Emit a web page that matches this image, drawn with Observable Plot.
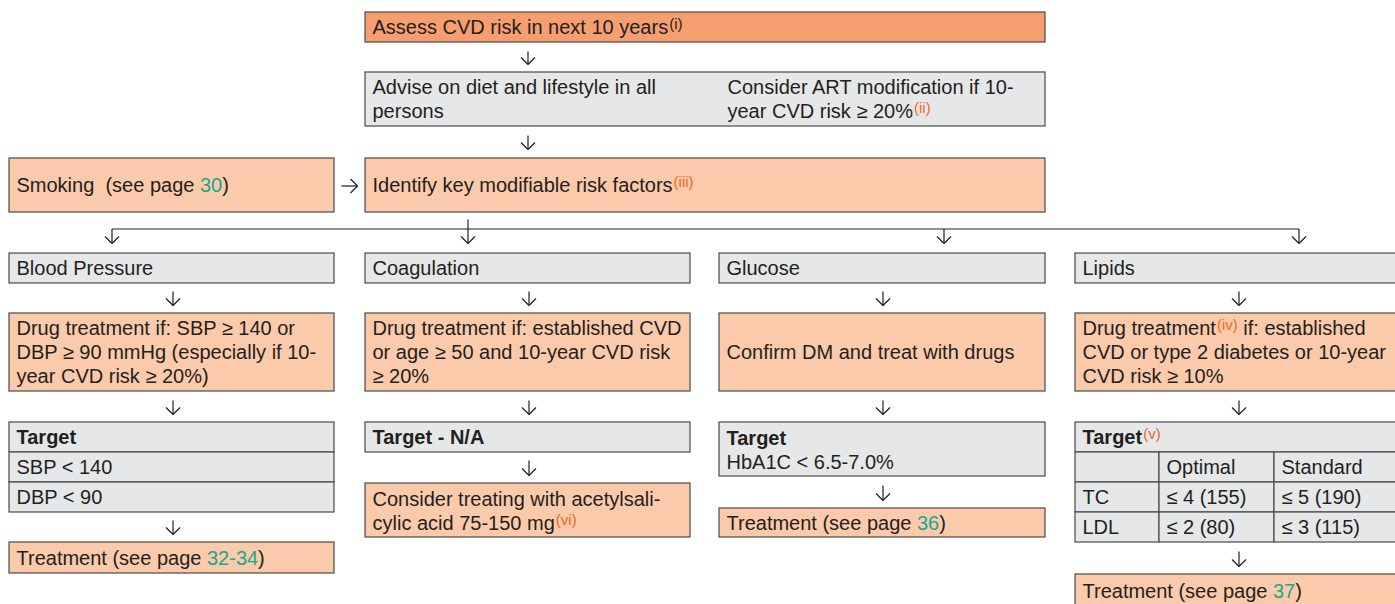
<!DOCTYPE html>
<html>
<head>
<meta charset="utf-8">
<script src="https://cdn.jsdelivr.net/npm/d3@7"></script>
<script src="https://cdn.jsdelivr.net/npm/@observablehq/plot@0.6"></script>
<style>
html,body{margin:0;padding:0;background:#fff;overflow:hidden}
svg text{white-space:pre}
</style>
</head>
<body>
<div id="chart"></div>
<script>
// ---------- content (texts only) ----------
// markup: {t:..} teal page reference, {s:..} orange superscript, {k:..} black superscript
const assessText = "Assess CVD risk in next 10 years{k:(i)}";
const adviceLeft = ["Advise on diet and lifestyle in all", "persons"];
const adviceRight = ["Consider ART modification if 10-", "year CVD risk ≥ 20%{s:(ii)}"];
const smokingText = "Smoking  (see page {t:30})";
const identifyText = "Identify key modifiable risk factors{s:(iii)}";
const categories = ["Blood Pressure", "Coagulation", "Glucose", "Lipids"];
const drugCriteria = [
  ["Drug treatment if: SBP ≥ 140 or", "DBP ≥ 90 mmHg (especially if 10-", "year CVD risk ≥ 20%)"],
  ["Drug treatment if: established CVD", "or age ≥ 50 and 10-year CVD risk", "≥ 20%"],
  ["Confirm DM and treat with drugs"],
  ["Drug treatment{s:(iv)} if: established", "CVD or type 2 diabetes or 10-year", "CVD risk ≥ 10%"]
];
const targetTitles = ["Target", "Target - N/A", "Target", "Target{s:(v)}"];
const bpTargets = ["SBP < 140", "DBP < 90"];
const glucoseTarget = "HbA1C < 6.5-7.0%";
const lipidHeader = ["", "Optimal", "Standard"];
const lipidRows = ["TC", "LDL"];
const lipidOptimal = ["≤ 4 (155)", "≤ 2 (80)"];
const lipidStandard = ["≤ 5 (190)", "≤ 3 (115)"];
const aspirinText = ["Consider treating with acetylsali-", "cylic acid 75-150 mg{s:(vi)}"];
const treatmentPages = ["32-34", null, "36", "37"];

// ---------- styling ----------
const W = 1395, H = 604;
const FONT = '"Liberation Sans", Arial, Helvetica, sans-serif';
const FS = 20, SUP_FS = 15, LH = 24, PAD = 7, HEAD = 7;
const C = {grey: "#E6E7E8", peach: "#FBCAAB", orange: "#F79E70", teal: "#1AA88C",
           sup: "#F26522", ink: "#231F20", line: "#4a4a4a"};

// ---------- layout helpers ----------
const ctx = document.createElement("canvas").getContext("2d");
function measure(t, size, bold) {
  ctx.font = `${bold ? "bold " : ""}${size}px ${FONT}`;
  return ctx.measureText(t).width;
}
const TOKEN = /\{(t|s|k):([^}]*)\}/g;
function parse(str) {
  const out = []; let last = 0, m;
  TOKEN.lastIndex = 0;
  while ((m = TOKEN.exec(str))) {
    if (m.index > last) out.push({kind: "n", text: str.slice(last, m.index)});
    out.push({kind: m[1], text: m[2]});
    last = TOKEN.lastIndex;
  }
  if (last < str.length) out.push({kind: "n", text: str.slice(last)});
  return out;
}
const rects = [], segs = [], links = [];
const R = (x1, x2, y1, y2, fill) => rects.push({x1, x2, y1, y2, fill});
function block(x, yc, lines) {
  const n = lines.length;
  lines.forEach((ln, i) => {
    const y = yc + (i - (n - 1) / 2) * LH;
    let cx = x;
    for (const p of parse(ln.text)) {
      const sup = p.kind === "s" || p.kind === "k";
      const bold = !!ln.bold && !sup;
      const size = sup ? SUP_FS : FS;
      if (sup) cx += 1;
      const lead = p.text.match(/^\s*/)[0];
      cx += measure(lead, size, bold);
      const t = p.text.slice(lead.length);
      segs.push({x: cx, y, text: t, sup, bold,
        fill: p.kind === "t" ? C.teal : p.kind === "s" ? C.sup : C.ink});
      cx += measure(t, size, bold);
    }
  });
}
const L = (...xs) => xs.map(t => ({text: t}));
function arrow(x1, y1, x2, y2, head = true) {
  links.push({x1, y1, x2, y2});
  if (!head) return;
  const a = Math.atan2(y2 - y1, x2 - x1);
  for (const s of [-1, 1]) {
    const b = a + Math.PI - s * Math.PI / 4;
    links.push({x1: x2 + HEAD * Math.SQRT2 * Math.cos(b), y1: y2 + HEAD * Math.SQRT2 * Math.sin(b), x2, y2});
  }
}

// ---------- top section ----------
R(365, 1045, 12, 42, C.orange); block(372, 27, L(assessText));
arrow(527.5, 51, 527.5, 64);
R(365, 1045, 72, 126, C.grey); block(372, 99, L(...adviceLeft)); block(727, 99, L(...adviceRight));
arrow(527.5, 135, 527.5, 149);
R(9, 334, 158, 212, C.peach); block(16, 185, L(smokingText));
R(365, 1045, 158, 212, C.peach); block(372, 185, L(identifyText));
arrow(341, 185.5, 357, 185.5);
// branching connector
arrow(111.5, 228.5, 1298.5, 228.5, false);
arrow(467.5, 219, 467.5, 243);
for (const x of [111.5, 943.5, 1298.5]) arrow(x, 228.5, x, 243);

// ---------- four columns ----------
const cols = [[9, 334], [365, 690], [719, 1045], [1075, 1401]];
cols.forEach(([x1, x2], c) => {
  const tx = x1 + PAD, cx = Math.round((x1 + x2) / 2) + 0.5;
  R(x1, x2, 253, 283, C.grey); block(tx, 268, L(categories[c]));
  arrow(cx, 291, cx, 305);
  R(x1, x2, 313, 391, C.peach); block(tx, 352, L(...drugCriteria[c]));
  arrow(cx, 400, cx, 414);
  const title = {text: targetTitles[c], bold: true};
  const treat = p => `Treatment (see page {t:${p}})`;
  if (c === 0) {
    R(x1, x2, 422, 452, C.grey); block(tx, 437, [title]);
    bpTargets.forEach((t, i) => { R(x1, x2, 452 + 30 * i, 482 + 30 * i, C.grey); block(tx, 467 + 30 * i, L(t)); });
    arrow(cx, 520, cx, 534);
    R(x1, x2, 542, 573, C.peach); block(tx, 558, L(treat(treatmentPages[c])));
  } else if (c === 1) {
    R(x1, x2, 422, 452, C.grey); block(tx, 437, [title]);
    arrow(cx, 460, cx, 475);
    R(x1, x2, 483, 537, C.peach); block(tx, 511, L(...aspirinText));
  } else if (c === 2) {
    R(x1, x2, 422, 476, C.grey); block(tx, 450, [title, {text: glucoseTarget}]);
    arrow(cx, 485, cx, 500);
    R(x1, x2, 508, 537, C.peach); block(tx, 523, L(treat(treatmentPages[c])));
  } else {
    R(x1, x2, 422, 452, C.grey); block(tx, 437, [title]);
    const gx = [1075, 1159, 1274, 1401], gy = [452, 482, 512, 542];
    const table = [lipidHeader, ...lipidRows.map((r, i) => [r, lipidOptimal[i], lipidStandard[i]])];
    table.forEach((row, r) => row.forEach((t, k) => {
      R(gx[k], gx[k + 1], gy[r], gy[r + 1], C.grey);
      if (t) block(gx[k] + PAD, gy[r] + 15, L(t));
    }));
    arrow(cx, 551, cx, 566);
    R(x1, x2, 574, 608, C.peach); block(tx, 591, L(treat(treatmentPages[c])));
  }
});

// ---------- plot ----------
const chart = Plot.plot({
  width: W, height: H, margin: 0,
  x: {domain: [0, W], range: [0, W], axis: null},
  y: {domain: [0, H], range: [0, H], axis: null},
  color: {type: "identity"},
  style: {background: "#fff", fontFamily: FONT},
  marks: [
    Plot.rect(rects, {x1: "x1", x2: "x2", y1: "y1", y2: "y2", fill: "fill", stroke: C.line, strokeWidth: 1.2}),
    Plot.link(links, {x1: "x1", y1: "y1", x2: "x2", y2: "y2", stroke: C.ink, strokeWidth: 1.2}),
    Plot.text(segs.filter(d => !d.sup && !d.bold), {x: "x", y: "y", text: "text", fill: "fill",
      textAnchor: "start", fontSize: FS, fontFamily: FONT}),
    Plot.text(segs.filter(d => d.bold), {x: "x", y: "y", text: "text", fill: "fill",
      textAnchor: "start", fontSize: FS, fontWeight: "bold", fontFamily: FONT}),
    Plot.text(segs.filter(d => d.sup), {x: "x", y: "y", text: "text", fill: "fill",
      textAnchor: "start", fontSize: SUP_FS, dy: -3, fontFamily: FONT})
  ]
});
document.getElementById("chart").appendChild(chart);
</script>
</body>
</html>
